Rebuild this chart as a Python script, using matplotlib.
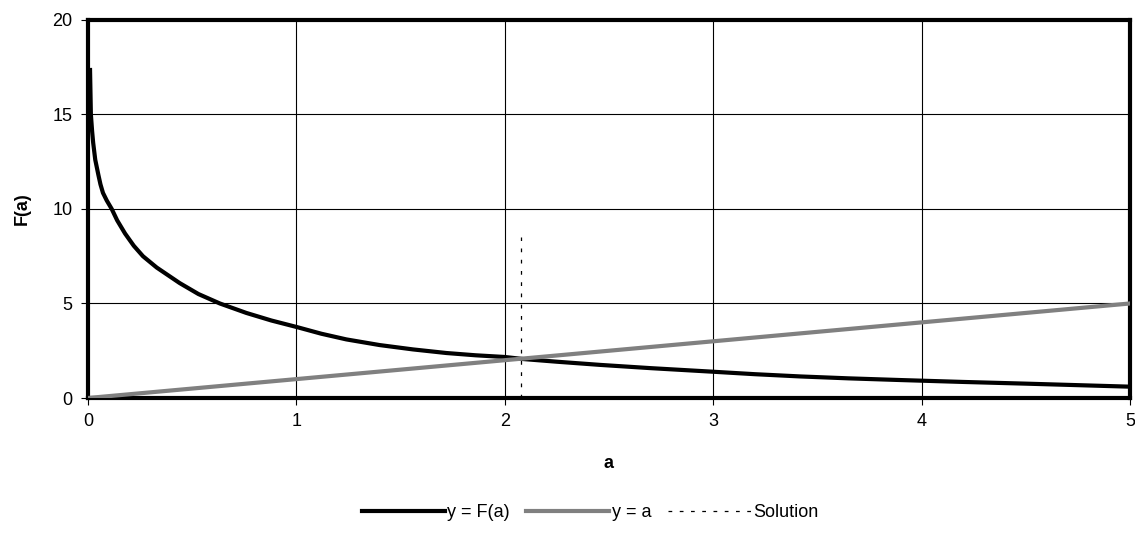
import matplotlib
matplotlib.use("Agg")
import matplotlib.pyplot as plt

plt.rcParams['font.family'] = ['Liberation Sans', 'DejaVu Sans']

# values
a_vals = [0.01, 0.014, 0.02, 0.025, 0.035, 0.05, 0.06, 0.072, 0.09, 0.114, 0.14, 0.178,
          0.22, 0.264, 0.33, 0.44, 0.53, 0.633, 0.76, 0.88, 1.0, 1.12, 1.24, 1.40,
          1.56, 1.72, 1.86, 2.0, 2.09, 2.25, 2.46, 2.7, 3.0, 3.2, 3.42, 3.65, 3.9,
          4.2, 4.5, 4.75, 5.0]
F_vals = [17.35, 15.0, 14.1, 13.5, 12.6, 11.8, 11.3, 10.85, 10.45, 10.0, 9.4, 8.7,
          8.05, 7.5, 6.9, 6.08, 5.5, 5.0, 4.5, 4.1, 3.76, 3.4, 3.1, 2.8,
          2.57, 2.38, 2.26, 2.17, 2.06, 1.92, 1.75, 1.58, 1.39, 1.26, 1.14, 1.04, 0.95,
          0.85, 0.76, 0.68, 0.6]
line_a = [0, 5]
solution_a = 2.08
solution_y = [0, 8.5]

fig = plt.figure(figsize=(11.35, 5.48), dpi=100)
ax = fig.add_axes([0.0775, 0.2737, 0.918, 0.69])

ax.plot(a_vals, F_vals, color='black', lw=3, label='y = F(a)', zorder=3)
ax.plot(line_a, line_a, color='#808080', lw=3, label='y = a', zorder=3)
ax.plot([solution_a, solution_a], solution_y, color='black', lw=0.9,
        linestyle=(0, (3, 6)), label='Solution', zorder=3)

ax.set_xlim(0, 5)
ax.set_ylim(0, 20)
ax.set_xticks([0, 1, 2, 3, 4, 5])
ax.set_yticks([0, 5, 10, 15, 20])
ax.grid(True, color='black', lw=0.8)
ax.set_axisbelow(True)
for s in ax.spines.values():
    s.set_linewidth(3)
ax.tick_params(labelsize=13, length=5, width=0.8, pad=6)

ax.set_xlabel('a', fontsize=13, fontweight='bold', labelpad=18)
ax.set_ylabel('F(a)', fontsize=13, fontweight='bold', labelpad=16)

fig.legend(loc='center', bbox_to_anchor=(0.52, 0.065), ncol=3, frameon=False,
           fontsize=13, handlelength=4.6, handletextpad=0.15, columnspacing=0.9)

fig.savefig('out.png', dpi=100)
